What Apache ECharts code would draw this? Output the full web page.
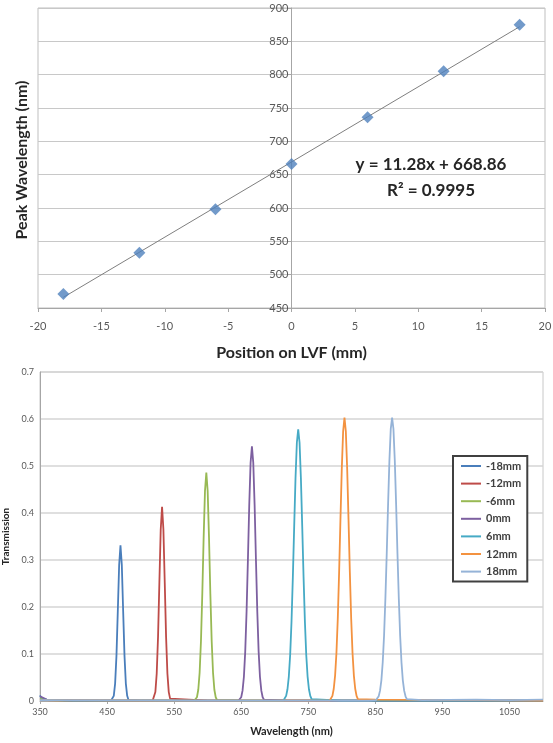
<!DOCTYPE html>
<html>
<head>
<meta charset="utf-8">
<script src="https://cdn.jsdelivr.net/npm/echarts@6.0.0/dist/echarts.min.js"></script>
<style>
html, body { margin: 0; padding: 0; background: #fff; }
#main { width: 553px; height: 743px; }
</style>
</head>
<body>
<div id="main"></div>
<script>
// top chart: peak wavelength vs position
var posMm = [-18, -12, -6, 0, 6, 12, 18];
var peakNm = [471, 533, 598, 666, 736, 805, 875];
var trendX = [-18, 18];
var trendY = [466, 872];
var eqText = "y = 11.28x + 668.86";
var r2Text = "R\u00b2 = 0.9995";

// bottom chart: transmission spectra
var seriesNames = ["-18mm", "-12mm", "-6mm", "0mm", "6mm", "12mm", "18mm"];
var colorList = ["#4A7EBB", "#BE4B48", "#98B954", "#7D60A0", "#46AAC5", "#F39240", "#95B3D7"];

var wlM18 = [350, 352, 356, 360, 400, 440, 456, 458, 460, 462, 464, 466, 468, 470, 472, 474, 476, 478, 480, 482, 484, 500, 600, 800, 1100];
var trM18 = [0.012, 0.006, 0.004, 0.003, 0.002, 0.001, 0.001, 0.002, 0.011, 0.037, 0.096, 0.191, 0.289, 0.331, 0.289, 0.191, 0.096, 0.037, 0.011, 0.002, 0.001, 0.001, 0.001, 0.001, 0.001];

var wlM12 = [350, 360, 400, 500, 518, 520, 522, 524, 526, 528, 530, 532, 534, 536, 538, 540, 542, 544, 546, 600, 800, 1100];
var trM12 = [0.004, 0.002, 0.001, 0.001, 0.001, 0.005, 0.019, 0.058, 0.136, 0.252, 0.365, 0.413, 0.365, 0.252, 0.136, 0.058, 0.019, 0.005, 0.001, 0.001, 0.001, 0.001];

var wlM6 = [350, 360, 400, 500, 580, 582, 584, 586, 588, 590, 592, 594, 596, 598, 600, 602, 604, 606, 608, 610, 612, 614, 616, 650, 800, 1100];
var trM6 = [0.006, 0.002, 0.001, 0.001, 0.001, 0.002, 0.008, 0.024, 0.060, 0.127, 0.228, 0.348, 0.447, 0.486, 0.447, 0.348, 0.228, 0.127, 0.060, 0.024, 0.008, 0.002, 0.001, 0.001, 0.001, 0.001];

var wl0 = [350, 360, 400, 600, 646, 648, 650, 652, 654, 656, 658, 660, 662, 664, 666, 668, 670, 672, 674, 676, 678, 680, 682, 684, 686, 720, 900, 1100];
var tr0 = [0.010, 0.003, 0.001, 0.001, 0.001, 0.003, 0.008, 0.022, 0.051, 0.105, 0.190, 0.300, 0.417, 0.507, 0.542, 0.507, 0.417, 0.300, 0.190, 0.105, 0.051, 0.022, 0.008, 0.003, 0.001, 0.001, 0.001, 0.001];

var wlP6 = [350, 400, 600, 700, 713, 715, 717, 719, 721, 723, 725, 727, 729, 731, 733, 735, 737, 739, 741, 743, 745, 747, 749, 751, 753, 755, 757, 800, 1100];
var trP6 = [0.003, 0.001, 0.001, 0.001, 0.001, 0.004, 0.011, 0.025, 0.052, 0.098, 0.168, 0.263, 0.371, 0.475, 0.550, 0.578, 0.550, 0.475, 0.371, 0.263, 0.168, 0.098, 0.052, 0.025, 0.011, 0.004, 0.001, 0.001, 0.001];

var wlP12 = [350, 500, 700, 770, 782, 784, 786, 788, 790, 792, 794, 796, 798, 800, 802, 804, 806, 808, 810, 812, 814, 816, 818, 820, 822, 824, 826, 850, 1000, 1100];
var trP12 = [0.002, 0.001, 0.001, 0.001, 0.001, 0.004, 0.011, 0.026, 0.054, 0.102, 0.175, 0.274, 0.387, 0.495, 0.574, 0.603, 0.574, 0.495, 0.387, 0.274, 0.175, 0.102, 0.054, 0.026, 0.011, 0.004, 0.001, 0.003, 0.002, 0.001];

var wlP18 = [350, 600, 800, 840, 851, 853, 855, 857, 859, 861, 863, 865, 867, 869, 871, 873, 875, 877, 879, 881, 883, 885, 887, 889, 891, 893, 895, 897, 899, 920, 1000, 1050, 1100];
var trP18 = [0.002, 0.001, 0.001, 0.001, 0.002, 0.004, 0.010, 0.022, 0.044, 0.082, 0.139, 0.218, 0.314, 0.418, 0.512, 0.579, 0.603, 0.579, 0.512, 0.418, 0.314, 0.218, 0.139, 0.082, 0.044, 0.022, 0.010, 0.004, 0.002, 0.002, 0.003, 0.002, 0.003];

var wlList = [wlM18, wlM12, wlM6, wl0, wlP6, wlP12, wlP18];
var trList = [trM18, trM12, trM6, tr0, trP6, trP12, trP18];

var fontName = "Lato";
var labelColor = "#595959";

function pairs(xs, ys) {
	var d = [];
	for(var i = 0; i < xs.length; i++) {
		d.push([xs[i], ys[i]]);
	}
	return d;
}

function plainNum(v) {
	return String(v);
}

var chart = echarts.init(document.getElementById("main"), null, { renderer: "canvas" });

var seriesList = [{
	name: "trend",
	type: "line",
	xAxisIndex: 0,
	yAxisIndex: 0,
	data: pairs(trendX, trendY),
	symbol: "none",
	lineStyle: { color: "#7f7f7f", width: 1 },
	z: 2
}, {
	name: "peak",
	type: "scatter",
	xAxisIndex: 0,
	yAxisIndex: 0,
	data: pairs(posMm, peakNm),
	symbol: "diamond",
	symbolSize: [12, 12],
	itemStyle: { color: "#4F81BD" },
	z: 3
}];

for(var i = 0; i < seriesNames.length; i++) {
	seriesList.push({
		name: seriesNames[i],
		type: "line",
		xAxisIndex: 1,
		yAxisIndex: 1,
		data: pairs(wlList[i], trList[i]),
		symbol: "none",
		smooth: false,
		color: colorList[i],
		lineStyle: { color: colorList[i], width: 1.8 }
	});
}

var option = {
	animation: false,
	backgroundColor: "#fff",
	textStyle: { fontFamily: fontName },
	grid: [{
		left: 38, right: 8, top: 8, height: 300,
		outerBoundsMode: "none", containLabel: false,
		show: true, borderColor: "#bfbfbf", borderWidth: 1
	}, {
		left: 40, right: 10, top: 372, height: 329,
		outerBoundsMode: "none", containLabel: false,
		show: true, borderColor: "#c8c8c8", borderWidth: 1
	}],
	xAxis: [{
		gridIndex: 0,
		type: "value",
		min: -20, max: 20, interval: 5,
		name: "Position on LVF (mm)",
		nameLocation: "middle",
		nameGap: 37,
		nameTextStyle: { fontFamily: fontName, fontWeight: "bold", fontSize: 16, color: "#262626" },
		axisLine: { onZero: false, lineStyle: { color: "#a6a6a6" } },
		axisTick: { show: true, length: 4, lineStyle: { color: "#a6a6a6" } },
		axisLabel: { fontFamily: fontName, fontSize: 11, color: labelColor, margin: 13, formatter: plainNum },
		splitLine: { show: false }
	}, {
		gridIndex: 1,
		type: "value",
		min: 350, max: 1100, interval: 100,
		name: "Wavelength (nm)",
		nameLocation: "middle",
		nameGap: 25,
		nameTextStyle: { fontFamily: fontName, fontWeight: "bold", fontSize: 11, color: "#262626" },
		axisLine: { onZero: false, lineStyle: { color: "#a6a6a6" } },
		axisTick: { show: true, length: 3, lineStyle: { color: "#a6a6a6" } },
		axisLabel: { fontFamily: fontName, fontSize: 9, color: labelColor, margin: 7, showMaxLabel: false, formatter: plainNum },
		splitLine: { show: false }
	}],
	yAxis: [{
		gridIndex: 0,
		type: "value",
		min: 450, max: 900, interval: 50,
		// y axis sits at x = 0, in the middle of the plot
		offset: -253.5,
		axisLine: { show: true, onZero: false, lineStyle: { color: "#a6a6a6" } },
		axisTick: { show: true, length: 4, lineStyle: { color: "#a6a6a6" } },
		axisLabel: { fontFamily: fontName, fontSize: 11, color: labelColor, margin: 3, formatter: plainNum },
		splitLine: { show: true, lineStyle: { color: "#c8c8c8" } }
	}, {
		gridIndex: 1,
		type: "value",
		min: 0, max: 0.7, interval: 0.1,
		name: "Transmission",
		nameLocation: "middle",
		nameGap: 20,
		nameTextStyle: { fontFamily: fontName, fontWeight: "bold", fontSize: 10, color: "#262626" },
		axisLine: { show: true, lineStyle: { color: "#a6a6a6" } },
		axisTick: { show: false },
		axisLabel: { fontFamily: fontName, fontSize: 9, color: labelColor, margin: 6 },
		splitLine: { show: true, lineStyle: { color: "#d4d4d4", width: 1.5 } }
	}],
	legend: {
		data: seriesNames,
		orient: "vertical",
		left: 453,
		top: 456,
		padding: [3, 6, 3, 8],
		itemGap: 3.6,
		itemWidth: 20,
		itemHeight: 2,
		icon: "rect",
		borderColor: "#404040",
		borderWidth: 2,
		backgroundColor: "#fff",
		textStyle: { fontFamily: fontName, fontWeight: "bold", fontSize: 11, color: "#404040", lineHeight: 14 }
	},
	graphic: [{
		type: "text",
		x: 22, y: 160,
		rotation: Math.PI / 2,
		style: { text: "Peak Wavelength (nm)", font: "bold 16px " + fontName, fill: "#262626", align: "center", verticalAlign: "middle" }
	}, {
		type: "text",
		x: 431, y: 165,
		style: { text: eqText, font: "bold 17px " + fontName, fill: "#262626", align: "center", verticalAlign: "middle" }
	}, {
		type: "text",
		x: 431, y: 191,
		style: { text: r2Text, font: "bold 17px " + fontName, fill: "#262626", align: "center", verticalAlign: "middle" }
	}],
	series: seriesList
};

chart.setOption(option);
</script>
</body>
</html>
